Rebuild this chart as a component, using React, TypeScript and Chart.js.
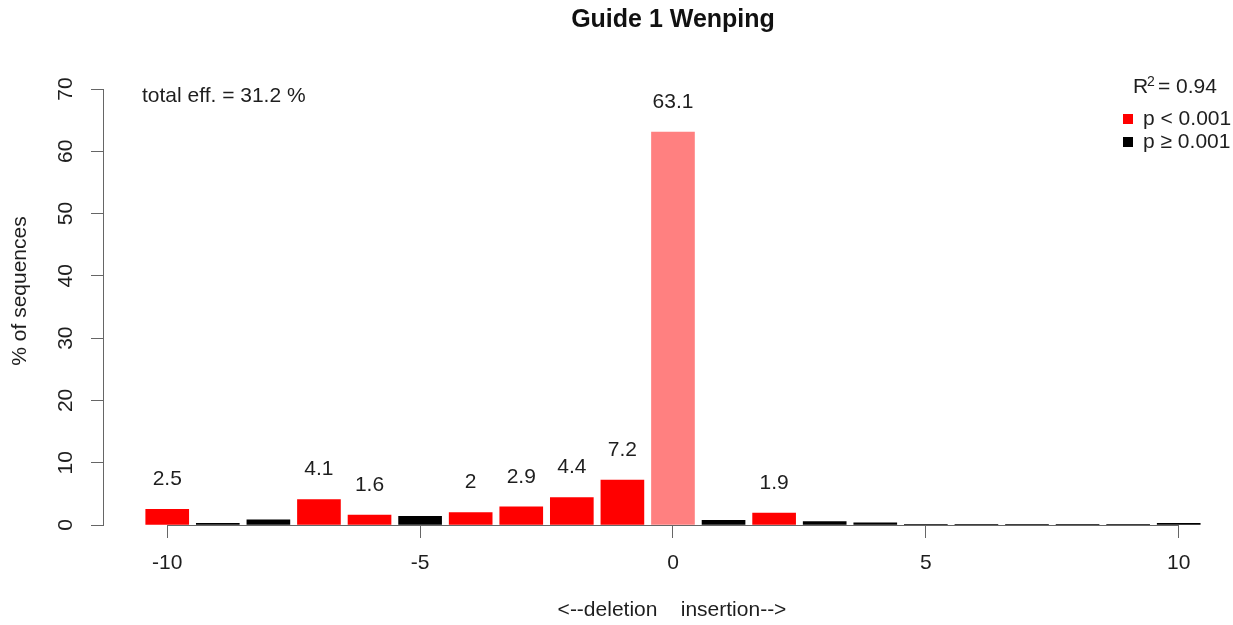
import React, { useEffect, useRef } from "react";
import { Chart, registerables } from "chart.js";

Chart.register(...registerables);

// ---- data ----
const positions = [-10, -9, -8, -7, -6, -5, -4, -3, -2, -1, 0, 1, 2, 3, 4, 5, 6, 7, 8, 9, 10];
const percentages = [2.5, 0.25, 0.85, 4.1, 1.6, 1.4, 2.0, 2.9, 4.4, 7.2, 63.1, 0.75, 1.9, 0.55, 0.35, 0.1, 0.1, 0.1, 0.1, 0.1, 0.25];
const groups = ["sig", "ns", "ns", "sig", "sig", "ns", "sig", "sig", "sig", "sig", "wt", "ns", "sig", "ns", "ns", "ns", "ns", "ns", "ns", "ns", "ns"];
const xTickValues = [-10, -5, 0, 5, 10];
const yTickValues = [0, 10, 20, 30, 40, 50, 60, 70];
const titleText = "Guide 1 Wenping";
const xTitle = "<--deletion    insertion-->";
const yTitle = "% of sequences";
const totalEffText = "total eff. = 31.2 %";
const r2Text = "0.94";
const legendLabels = ["p < 0.001", "p \u2265 0.001"];
const legendGroups = ["sig", "ns"];

const groupColors: Record<string, string> = { sig: "#FF0000", ns: "#000000", wt: "#FF8080" };

const FONT = "'Liberation Sans', Arial, Helvetica, sans-serif";
const TEXT = "#1e1e1e";
const AXIS = "#666666";

const fmt = (v: number) => String(Math.round(v * 10) / 10);

const overlayPlugin = {
  id: "overlay",
  beforeDatasetsDraw(chart: any) {
    const { ctx } = chart;
    const xs = chart.scales.x;
    const ys = chart.scales.y;
    const y0 = Math.round(ys.getPixelForValue(0)) + 0.5;
    ctx.save();
    ctx.strokeStyle = AXIS;
    ctx.lineWidth = 1;
    ctx.beginPath();
    ctx.moveTo(xs.getPixelForValue(xTickValues[0]), y0);
    ctx.lineTo(xs.getPixelForValue(xTickValues[xTickValues.length - 1]), y0);
    ctx.stroke();
    ctx.restore();
  },
  afterDraw(chart: any) {
    const { ctx } = chart;
    const xs = chart.scales.x;
    const ys = chart.scales.y;
    ctx.save();
    // title
    ctx.fillStyle = "#111";
    ctx.font = `bold 25px ${FONT}`;
    ctx.textAlign = "center";
    ctx.textBaseline = "middle";
    ctx.fillText(titleText, 673, 20);
    ctx.fillStyle = TEXT;
    ctx.font = `21px ${FONT}`;
    // x title
    ctx.fillText(xTitle, 672, 610);
    // value labels
    positions.forEach((p, i) => {
      if (groups[i] === "ns") return;
      const x = xs.getPixelForValue(p);
      const y = ys.getPixelForValue(percentages[i]) - 30;
      ctx.fillText(fmt(percentages[i]), x, y);
    });
    // total eff
    ctx.textAlign = "left";
    ctx.fillText(totalEffText, 142, 96);
    // R^2
    ctx.textBaseline = "alphabetic";
    ctx.fillText("R", 1133, 93);
    ctx.font = `14px ${FONT}`;
    ctx.fillText("2", 1147, 86);
    ctx.font = `21px ${FONT}`;
    ctx.fillText("= " + r2Text, 1158, 93);
    // legend
    ctx.textBaseline = "middle";
    legendLabels.forEach((lab, i) => {
      const cy = 119 + i * 23;
      ctx.fillStyle = groupColors[legendGroups[i]];
      ctx.fillRect(1123, cy - 5, 10, 10);
      ctx.fillStyle = TEXT;
      ctx.fillText(lab, 1143, cy);
    });
    // y title
    ctx.translate(20, 291);
    ctx.rotate(-Math.PI / 2);
    ctx.textAlign = "center";
    ctx.fillText(yTitle, 0, 0);
    ctx.restore();
  },
};

export default function App() {
  const ref = useRef<HTMLCanvasElement | null>(null);
  useEffect(() => {
    if (!ref.current) return;
    const chart = new Chart(ref.current, {
      type: "bar",
      data: {
        datasets: [
          {
            data: positions.map((p, i) => ({ x: p, y: percentages[i] })),
            backgroundColor: groups.map((g) => groupColors[g]),
            borderWidth: 0,
            barThickness: 43,
          },
        ],
      },
      options: {
        animation: false,
        responsive: true,
        maintainAspectRatio: false,
        layout: { padding: { left: 0, right: 29, top: 89, bottom: 0 } },
        plugins: {
          legend: { display: false },
          tooltip: { enabled: false },
          title: { display: false },
        },
        scales: {
          x: {
            type: "linear",
            min: -11.27,
            max: 10.5,
            offset: false,
            afterBuildTicks: (s: any) => {
              s.ticks = xTickValues.map((v) => ({ value: v }));
            },
            afterFit: (s: any) => {
              s.height = 100;
            },
            border: { display: false },
            grid: { display: true, offset: false, drawOnChartArea: false, drawTicks: true, tickLength: 13, tickColor: AXIS, color: AXIS },
            ticks: {
              autoSkip: false,
              maxRotation: 0,
              minRotation: 0,
              padding: 13,
              color: TEXT,
              font: { family: FONT, size: 21 },
              callback: (v: any) => String(v),
            },
          },
          y: {
            min: 0,
            max: 70,
            afterBuildTicks: (s: any) => {
              s.ticks = yTickValues.map((v) => ({ value: v }));
            },
            afterFit: (s: any) => {
              s.width = 103;
            },
            border: { display: true, color: AXIS },
            grid: { drawOnChartArea: false, drawTicks: true, tickLength: 12, tickColor: AXIS, color: AXIS },
            ticks: {
              autoSkip: false,
              minRotation: 90,
              maxRotation: 90,
              crossAlign: "center",
              padding: 13,
              color: TEXT,
              font: { family: FONT, size: 21 },
              callback: (v: any) => String(v),
            },
          },
        },
      },
      plugins: [overlayPlugin],
    } as any);
    return () => chart.destroy();
  }, []);
  return (
    <div style={{ position: "fixed", left: 0, top: 0, width: 1233, height: 625, background: "#fff" }}>
      <canvas ref={ref} />
    </div>
  );
}
